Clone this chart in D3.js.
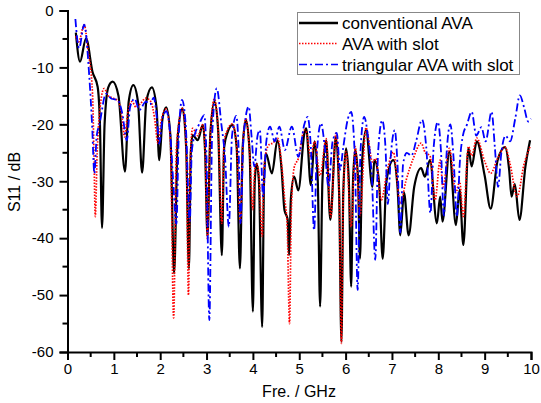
<!DOCTYPE html>
<html><head><meta charset="utf-8">
<script src="https://cdn.jsdelivr.net/npm/d3@7"></script>
<style>body{margin:0;background:#fff}svg{display:block}text{font-family:Arial,"Liberation Sans",sans-serif}</style>
</head><body><svg id="c" width="541" height="403"></svg>
<script>
const seriesNames = ["conventional AVA", "AVA with slot", "triangular AVA with slot"];
const xTicks = [0,1,2,3,4,5,6,7,8,9,10];
const yTicks = [0,-10,-20,-30,-40,-50,-60];

const convFreq = [0.18,0.27,0.40,0.54,0.65,0.70,0.745,0.80,0.88,0.975,1.10,1.24,1.32,1.42,1.52,1.61,1.70,1.82,1.92,1.98,2.05,2.13,2.22,2.30,2.38,2.48,2.56,2.62,2.66,2.70,2.81,2.92,2.97,3.02,3.08,3.17,3.25,3.33,3.38,3.45,3.56,3.65,3.72,3.78,3.85,3.93,4.0,4.04,4.08,4.13,4.2,4.24,4.28,4.41,4.53,4.62,4.68,4.75,4.78,4.82,4.89,4.98,5.11,5.15,5.25,5.33,5.40,5.45,5.50,5.58,5.67,5.79,5.86,5.91,5.95,6.01,6.07,6.12,6.16,6.21,6.27,6.31,6.36,6.44,6.58,6.62,6.72,6.8,6.88,7.03,7.12,7.18,7.26,7.36,7.48,7.63,7.71,7.82,7.97,8.04,8.09,8.24,8.38,8.46,8.54,8.65,8.72,8.83,9.0,9.13,9.28,9.44,9.53,9.58,9.65,9.75,9.88,9.98];
const convS11 = [-3.9,-9.0,-4.9,-10.8,-13.4,-20,-38.2,-20,-13.5,-12.5,-15,-28.3,-16,-13.1,-16,-28.5,-16,-13.5,-17,-26.3,-19,-17.0,-22,-46.2,-22,-17.2,-24,-45.3,-25,-21.9,-22.8,-20.1,-25,-39.7,-22,-16.0,-21,-43.0,-24,-21.5,-20.1,-24,-45.3,-24,-19.2,-25,-52.9,-30,-26.9,-30,-55.6,-30,-25.1,-28.6,-22.8,-28,-35,-36.7,-43,-33,-29.2,-31.6,-21.6,-20.7,-30.7,-23.0,-30,-52.0,-30,-22.8,-36.8,-22.2,-32,-58.2,-32,-24.2,-30,-48.5,-30,-24.5,-30,-43.6,-26,-21.0,-31.0,-26.3,-30,-43.6,-30,-26.3,-31,-39.5,-32,-39.5,-31.0,-27.7,-29.2,-26.3,-37.4,-32.7,-37.1,-24.8,-37.7,-31.5,-41.2,-24.2,-27.4,-23.0,-29.0,-34.8,-26.3,-24.0,-28.1,-32.7,-30.5,-36.8,-27.4,-22.8];

const slotFreq = [0.18,0.24,0.36,0.44,0.54,0.57,0.60,0.64,0.69,0.79,0.88,0.99,1.10,1.18,1.23,1.30,1.39,1.48,1.56,1.69,1.80,1.88,1.95,2.03,2.13,2.22,2.29,2.35,2.48,2.56,2.61,2.65,2.70,2.81,2.92,2.97,3.02,3.08,3.17,3.25,3.33,3.38,3.45,3.56,3.65,3.73,3.78,3.85,3.93,4.0,4.04,4.08,4.13,4.2,4.24,4.28,4.36,4.43,4.53,4.62,4.68,4.74,4.79,4.83,4.89,4.98,5.11,5.15,5.25,5.33,5.45,5.58,5.68,5.79,5.86,5.91,5.95,6.01,6.12,6.21,6.31,6.44,6.58,6.65,6.77,6.9,7.03,7.18,7.30,7.46,7.63,7.72,7.82,7.93,8.04,8.10,8.24,8.38,8.46,8.54,8.65,8.72,8.83,9.0,9.13,9.28,9.44,9.55,9.70,9.85,9.98];
const slotS11 = [-4.5,-5.5,-2.5,-6.8,-14.6,-25,-36.2,-25,-18.1,-13.7,-15,-15.4,-16,-19,-22.2,-18,-16.0,-17,-16.5,-15.4,-16,-19,-23.3,-19,-17.3,-23,-54,-24,-17.2,-24,-50,-26,-20.7,-22,-20.1,-25,-40.2,-22,-15.5,-21,-37.4,-23,-21,-19.9,-24,-37.4,-24,-19,-25,-35,-28,-26.9,-29,-39.7,-28,-25,-23.5,-23.3,-22.4,-27,-32.6,-38,-55,-35,-27.6,-26,-21,-21.3,-25.7,-23,-29,-22.5,-36.3,-21.6,-32,-58.5,-32,-24.8,-38,-23.9,-36,-20.6,-26.6,-26,-33.3,-28,-24.9,-33.9,-30,-26,-23.3,-25,-25.5,-33.3,-26.3,-31,-24.2,-32,-30,-36.2,-23.9,-25.5,-22.4,-26.5,-28.6,-26,-24,-27,-32.7,-27,-23.9];

const triFreq = [0.17,0.25,0.36,0.47,0.53,0.58,0.63,0.69,0.83,0.95,1.08,1.18,1.28,1.35,1.45,1.55,1.69,1.78,1.86,1.93,1.98,2.05,2.13,2.22,2.28,2.35,2.40,2.47,2.55,2.64,2.68,2.74,2.84,2.95,3.0,3.06,3.12,3.22,3.32,3.40,3.48,3.55,3.64,3.69,3.73,3.80,3.91,3.97,4.03,4.10,4.15,4.22,4.29,4.37,4.47,4.57,4.69,4.84,4.98,5.11,5.18,5.25,5.32,5.38,5.47,5.55,5.63,5.72,5.81,5.88,5.95,6.05,6.12,6.20,6.26,6.32,6.40,6.48,6.57,6.64,6.70,6.79,6.86,6.91,6.98,7.06,7.12,7.18,7.24,7.32,7.42,7.52,7.65,7.74,7.83,7.90,7.99,8.06,8.12,8.18,8.26,8.33,8.40,8.47,8.53,8.62,8.72,8.82,8.93,9.02,9.15,9.22,9.29,9.36,9.45,9.55,9.66,9.76,9.85,9.94,10.0];
const triS11 = [-1.5,-6.6,-2.5,-11.6,-20,-28.6,-22,-20,-14.6,-15.5,-15.7,-18,-22.8,-17,-15.5,-17.5,-16,-16.5,-15.3,-19,-23.4,-19,-17.7,-22,-30,-37.5,-22,-15.7,-20,-37,-25,-22,-20,-18.4,-26,-54.4,-22,-13.7,-20,-26,-38,-22,-18.5,-24,-37.4,-22,-16.9,-22,-27.4,-22,-21,-32.7,-23,-20.4,-23,-20.4,-24.5,-20.4,-25.7,-20,-18.7,-24,-38.6,-25,-19.8,-24,-31,-23,-21.5,-28,-24,-19,-17.8,-26,-49.1,-25,-18.7,-22,-30,-43.8,-25,-19.3,-24,-34,-25,-21,-27,-39,-27,-25,-25.5,-23,-19.2,-24,-35.6,-24,-19.6,-25,-36,-25,-20,-26,-36.2,-26,-22,-20,-17.8,-22,-20.5,-23,-17.8,-24,-31,-25,-22,-23,-19,-14.9,-17,-19.5,-19];

const svg = d3.select("#c");
const x = d3.scaleLinear().domain([0,10]).range([67.5,531]);
const y = d3.scaleLinear().domain([-60,0]).range([352,10.5]);

const zip = (f,v) => f.map((d,i)=>[d,v[i]]);
const data = [zip(convFreq,convS11), zip(slotFreq,slotS11), zip(triFreq,triS11)];
const styles = [
  {stroke:"#000", width:2.2, dash:null},
  {stroke:"#ff0000", width:1.7, dash:"1.5,1.5"},
  {stroke:"#0000ff", width:1.8, dash:"8,3,2,3"}
];
const line = d3.line().x(d=>x(d[0])).y(d=>y(d[1])).curve(d3.curveMonotoneX);
const g = svg.append("g");
data.forEach((d,i)=>{
  g.append("path").datum(d).attr("d",line).attr("fill","none")
   .attr("stroke",styles[i].stroke).attr("stroke-width",styles[i].width)
   .attr("stroke-dasharray",styles[i].dash).attr("stroke-linejoin","round");
});

// axes
const xAxis = d3.axisBottom(x).tickValues(xTicks).tickFormat(d3.format("d")).tickSize(8).tickPadding(3);
const xa = svg.append("g").attr("transform","translate(0,352)").call(xAxis);
const yAxis = d3.axisLeft(y).tickValues(yTicks).tickFormat(d=>String(d).replace("\u2212","-")).tickSize(8).tickPadding(6);
const ya = svg.append("g").attr("transform","translate(67.5,0)").call(yAxis);
[xa,ya].forEach(a=>{
  a.select(".domain").attr("stroke","#000").attr("stroke-width",2);
  a.selectAll(".tick line").attr("stroke","#000").attr("stroke-width",2);
  a.selectAll("text").attr("font-size",15).attr("fill","#000").style("font-family","Arial, 'Liberation Sans', sans-serif");
});
// minor ticks
const xMinor = d3.range(0.5,10,1);
svg.append("g").selectAll("line").data(xMinor).join("line")
  .attr("x1",d=>x(d)).attr("x2",d=>x(d)).attr("y1",352).attr("y2",357)
  .attr("stroke","#000").attr("stroke-width",2);
const yMinor = d3.range(-55,0,10);
svg.append("g").selectAll("line").data(yMinor).join("line")
  .attr("x1",62.5).attr("x2",67.5).attr("y1",d=>y(d)).attr("y2",d=>y(d))
  .attr("stroke","#000").attr("stroke-width",2);

// axis titles
svg.append("text").attr("x",299).attr("y",397).attr("text-anchor","middle").attr("font-size",16).text("Fre. / GHz");
svg.append("text").attr("transform","translate(20,182) rotate(-90)").attr("text-anchor","middle").attr("font-size",16).text("S11 / dB");

// legend
const lg = svg.append("g");
lg.append("rect").attr("x",297.5).attr("y",12.5).attr("width",222).attr("height",62)
  .attr("fill","#fff").attr("stroke","#888").attr("stroke-width",1);
const ly = [23,43.5,64.5];
seriesNames.forEach((n,i)=>{
  lg.append("line").attr("x1",299).attr("x2",338).attr("y1",ly[i]).attr("y2",ly[i])
    .attr("stroke",styles[i].stroke).attr("stroke-width",i===0?2.5:1.6).attr("stroke-dasharray",styles[i].dash);
  lg.append("text").attr("x",342).attr("y",ly[i]+6).attr("font-size",17).text(n);
});
</script></body></html>
